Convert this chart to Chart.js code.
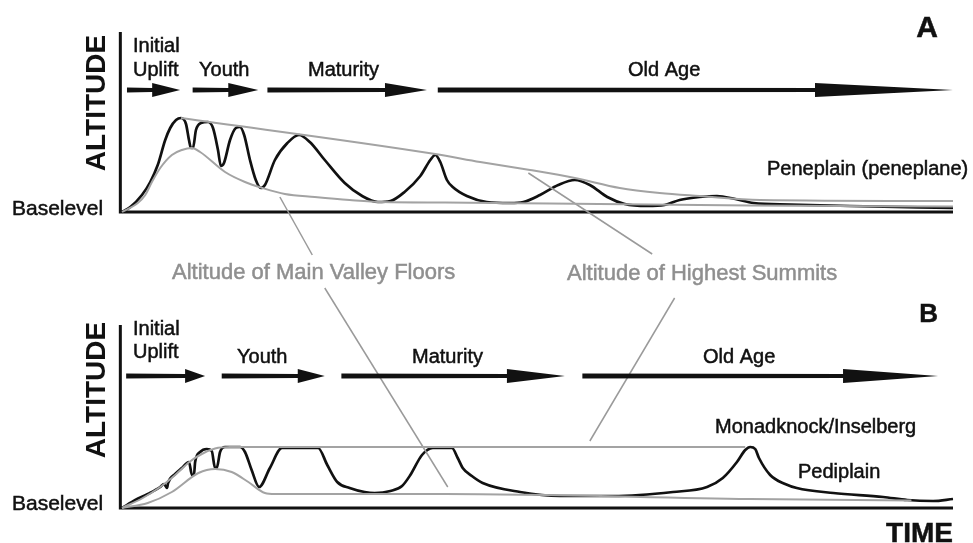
<!DOCTYPE html>
<html>
<head>
<meta charset="utf-8">
<title>Cycle of erosion</title>
<script src="https://cdn.jsdelivr.net/npm/chart.js"></script>
<style>
  html, body { margin: 0; padding: 0; background: #fff; }
</style>
</head>
<body>
<canvas id="chart" width="973" height="543"></canvas>
<script>
// time runs 0..100 along both panels, altitude is height above baselevel
// panel A - peneplain (Davis)
const profileA = [[0,0],[1,5],[2.4,17],[3.4,30],[4.3,47],[5.2,72],[5.8,84],[6.5,92],[7.1,94],[7.7,88],[8.06,72],[8.3,64],
  [8.54,64],[8.9,82],[9.5,89],[10.35,90],[10.95,84],[11.55,62],[11.9,46],[12.27,49],[13,72],[13.7,84],[14.2,85],[14.7,77],
  [15.4,52],[16.1,32],[16.7,24],[17.2,27],[18.4,52],[19.9,69],[21.3,77],[22.6,70],[24.4,52],[26.8,29],[28.9,16],[30.8,10],
  [32.3,11],[34,20],[35.9,36],[37.1,52],[37.7,57],[38.3,50],[39.1,32],[39.8,25],[41.5,16],[43.9,10],[46.7,9],[48.3,10],
  [50.3,17],[52.5,27],[54.5,32],[56.3,27],[58.4,15],[60.5,8],[63.2,6],[65.3,7],[67.1,12],[69.5,15],[71.6,16],[73.8,13],
  [76,9],[80.4,7.5],[87.6,6],[100,4]];
const summitsA = [[7.1,94],[37.7,58],[43.1,50],[49.1,42],[54.5,34],[59.9,24],[64.7,19],[69.5,16],[76.8,12],[100,11]];
const valleysA = [[0,0],[1.9,9],[2.8,17],[3.6,30],[4.6,44],[6,57],[7.2,62],[8.4,64],[9.4,60],[12.4,40],[14.8,30],[16.9,24],
  [19.6,18],[23.2,15],[27.4,12],[31.3,10],[38.9,9.5],[51.5,8.5],[75.6,6.5],[100,5.5]];

// panel B - pediplain (King)
const profileB = [[0,0],[1.6,8],[3.1,14],[4.6,21],[5.05,24],[5.42,20],[5.54,25],[6.4,34],[7.2,40],[8.06,46],[8.42,33],
  [8.66,33],[8.8,46],[9.4,56],[10.2,59],[10.8,57],[11.2,40],[11.4,40],[11.8,56],[12.4,61],[14.2,61],[14.8,56],[15.6,38],
  [16.5,21],[17.8,40],[19.25,60],[23.6,60],[24.7,43],[25.9,26],[27.4,20],[29.2,16],[30.4,15],[32.3,17],[33.7,22],[34.7,33],
  [36.1,53],[37.4,60],[39.7,60],[40.4,50],[41,40],[42.1,32],[43.4,25],[47.9,16],[52.7,12],[59.1,12],[66.3,16],[70.4,21],
  [72.3,30],[74,46],[75,58],[75.6,61],[76.2,59],[76.65,50],[78,33],[79.8,24],[81.2,20],[85.6,15],[91.6,11],[94.5,8],
  [97.6,7],[100,9]];
const summitsB = [[0,0],[2.5,10],[4.6,21],[6.4,33],[8.1,46],[9.6,54],[11.2,59.5],[13,61],[75,61]];
const valleysB = [[0,0],[3.1,5],[6,16],[9.2,35],[11.2,39],[13.2,36],[15.2,26],[17.2,15],[18.4,14],[38.9,14],[75.6,9],[95,7.5]];

// leader lines from the grey labels (upper part in panel A, lower part in panel B)
const valleyLeaderA = [[19.0,15],[22.9,-43]];
const valleyLeaderB = [[24.4,220],[39.2,21]];
const summitLeaderA = [[48.9,39],[63.8,-42]];
const summitLeaderB = [[66.5,210],[56.3,67]];

// stages of the cycle, start/end in time
const stageNames = ['Initial Uplift', 'Youth', 'Maturity', 'Old Age'];
const stagesA = [[0.6,7.0],[8.5,16.4],[17.5,36.7],[38.0,100]];
const stagesB = [[0.5,10.0],[12.0,24.4],[26.4,53.3],[55.4,98.2]];

const W = 973, H = 543;
const X0 = 122, PX_T = 8.31;     // pixel of time 0, pixels per time unit
const BASE_A = 212, BASE_B = 508; // baselines, 1px per altitude unit

const pts = arr => arr.map(p => ({ x: p[0], y: p[1] }));

function line(data, axis, color, width, smooth) {
  return {
    data: pts(data), yAxisID: axis, showLine: true, borderColor: color, borderWidth: width,
    pointRadius: 0, fill: false, clip: false,
    cubicInterpolationMode: smooth ? 'monotone' : 'default', tension: 0
  };
}

const FONT = '"Liberation Sans", Arial, Helvetica, sans-serif';

function arrow(ctx, x1, x2, y, head) {
  ctx.fillStyle = '#111';
  ctx.beginPath();
  ctx.moveTo(x1, y - 2.5);
  ctx.lineTo(x2 - head, y - 2);
  ctx.lineTo(x2 - head, y - 7);
  ctx.lineTo(x2, y);
  ctx.lineTo(x2 - head, y + 7);
  ctx.lineTo(x2 - head, y + 2);
  ctx.lineTo(x1, y + 2.5);
  ctx.closePath();
  ctx.fill();
}

// labels in the scan look a bit heavier than plain regular, so add a hairline stroke
function text(ctx, s, x, y, font, color, align) {
  ctx.font = font;
  ctx.fillStyle = color || '#111';
  ctx.strokeStyle = color || '#111';
  ctx.lineWidth = 0.5;
  ctx.textAlign = align || 'left';
  ctx.textBaseline = 'alphabetic';
  ctx.fillText(s, x, y);
  ctx.strokeText(s, x, y);
}

const decor = {
  id: 'decor',
  beforeDatasetsDraw(chart) {
    const { ctx, scales } = chart;
    const x = scales.x;
    ctx.save();
    ctx.strokeStyle = '#111';
    ctx.lineWidth = 3;
    [['yA', 180], ['yB', 183]].forEach(([id, top]) => {
      const y = scales[id];
      ctx.beginPath();
      ctx.moveTo(x.getPixelForValue(-0.2), y.getPixelForValue(top));
      ctx.lineTo(x.getPixelForValue(-0.2), y.getPixelForValue(0));
      ctx.lineTo(x.getPixelForValue(100), y.getPixelForValue(0));
      ctx.stroke();
    });
    ctx.restore();
  },
  afterDatasetsDraw(chart) {
    const { ctx, scales } = chart;
    const x = scales.x;
    ctx.save();
    // stage arrows
    const headsA = [28, 30, 42, 138], headsB = [20, 27, 58, 95];
    stagesA.forEach((s, i) => arrow(ctx, x.getPixelForValue(s[0]), x.getPixelForValue(s[1]), scales.yA.getPixelForValue(122), headsA[i]));
    stagesB.forEach((s, i) => arrow(ctx, x.getPixelForValue(s[0]), x.getPixelForValue(s[1]), scales.yB.getPixelForValue(132), headsB[i]));

    const f20 = '20px ' + FONT;
    // stage labels, panel A
    text(ctx, 'Initial', 133, 52, f20);
    text(ctx, 'Uplift', 133, 76, f20);
    text(ctx, stageNames[1], 199, 76, f20);
    text(ctx, stageNames[2], 308, 76, f20);
    text(ctx, stageNames[3], 628, 76, f20);
    // stage labels, panel B
    text(ctx, 'Initial', 133, 335, f20);
    text(ctx, 'Uplift', 133, 358, f20);
    text(ctx, stageNames[1], 237, 363, f20);
    text(ctx, stageNames[2], 412, 363, f20);
    text(ctx, stageNames[3], 703, 363, f20);

    text(ctx, 'Peneplain (peneplane)', 767, 175, f20);
    text(ctx, 'Monadknock/Inselberg', 715, 433, f20);
    text(ctx, 'Pediplain', 798, 478, f20);

    const f21 = '21px ' + FONT;
    text(ctx, 'Baselevel', 12, 215, f21);
    text(ctx, 'Baselevel', 12, 510, f21);

    const g22 = '22px ' + FONT;
    text(ctx, 'Altitude of Main Valley Floors', 172, 279, g22, '#8f8f8f');
    text(ctx, 'Altitude of Highest Summits', 567, 280, g22, '#8f8f8f');

    text(ctx, 'A', 938, 37, 'bold 30px ' + FONT, '#111', 'right');
    text(ctx, 'B', 938, 322, 'bold 26px ' + FONT, '#111', 'right');
    text(ctx, 'TIME', 953, 542, 'bold 28px ' + FONT, '#111', 'right');

    // rotated axis titles
    [[96, 103], [96, 390]].forEach(([cx, cy]) => {
      ctx.save();
      ctx.translate(cx, cy);
      ctx.rotate(-Math.PI / 2);
      ctx.font = 'bold 28px ' + FONT;
      ctx.fillStyle = '#111';
      ctx.textAlign = 'center';
      ctx.textBaseline = 'middle';
      ctx.fillText('ALTITUDE', 0, 1);
      ctx.restore();
    });
    ctx.restore();
  }
};

const GREY = '#a3a3a3', LEAD = '#9a9a9a', BLACK = '#111';

new Chart(document.getElementById('chart'), {
  type: 'scatter',
  data: {
    datasets: [
      line(summitsA, 'yA', GREY, 2, true),
      line(valleysA, 'yA', GREY, 2, true),
      line(summitsB, 'yB', GREY, 2, true),
      line(valleysB, 'yB', GREY, 2, true),
      line(valleyLeaderA, 'yA', LEAD, 1.5, false),
      line(valleyLeaderB, 'yB', LEAD, 1.5, false),
      line(summitLeaderA, 'yA', LEAD, 1.5, false),
      line(summitLeaderB, 'yB', LEAD, 1.5, false),
      line(profileA, 'yA', BLACK, 2.7, true),
      line(profileB, 'yB', BLACK, 2.7, true)
    ]
  },
  options: {
    responsive: false,
    animation: false,
    layout: { padding: 0 },
    plugins: { legend: { display: false }, tooltip: { enabled: false } },
    scales: {
      x: { type: 'linear', display: false, min: -X0 / PX_T, max: (W - X0) / PX_T },
      yA: { type: 'linear', display: false, min: BASE_A - H, max: BASE_A },
      yB: { type: 'linear', display: false, min: BASE_B - H, max: BASE_B }
    }
  },
  plugins: [decor]
});
</script>
</body>
</html>
